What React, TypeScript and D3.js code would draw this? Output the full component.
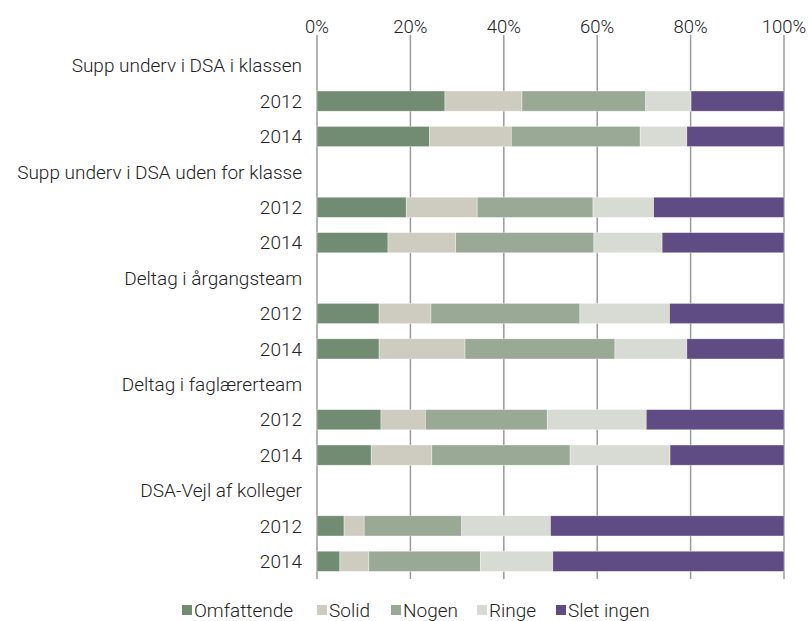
import React from "react";
import * as d3 from "d3";

const groups = [
  "Supp underv i DSA i klassen",
  "Supp underv i DSA uden for klasse",
  "Deltag i årgangsteam",
  "Deltag i faglærerteam",
  "DSA-Vejl af kolleger",
];
const years = ["2012", "2014"];
const seriesNames = ["Omfattende", "Solid", "Nogen", "Ringe", "Slet ingen"];
const colors = ["#728c73", "#cecbc0", "#9aa996", "#d8dbd4", "#604c84"];

// one value per bar, order: group1 2012, group1 2014, group2 2012 ...
const omfattende = [27.4, 24.1, 19.1, 15.2, 13.3, 13.3, 13.7, 11.6, 5.8, 4.9];
const solid = [16.5, 17.5, 15.2, 14.5, 11.1, 18.4, 9.5, 13.0, 4.3, 6.2];
const nogen = [26.5, 27.6, 24.8, 29.6, 31.9, 32.1, 26.1, 29.6, 20.9, 23.9];
const ringe = [9.7, 10.0, 13.0, 14.6, 19.2, 15.4, 21.2, 21.4, 19.0, 15.5];
const sletIngen = [19.9, 20.8, 27.9, 26.1, 24.5, 20.8, 29.5, 24.4, 50.0, 49.5];
const ticks = [0, 20, 40, 60, 80, 100];

const W = 812;
const H = 621;
const font = "Roboto, 'Open Sans', sans-serif";

export default function App() {
  const allSeries = [omfattende, solid, nogen, ringe, sletIngen];

  // rows: header then one per year
  const rows: { key: string; label: string; bar: number }[] = [];
  let bi = 0;
  groups.forEach((g, gi) => {
    rows.push({ key: "h" + gi, label: g, bar: -1 });
    years.forEach((yr) => {
      rows.push({ key: "b" + bi, label: yr, bar: bi });
      bi++;
    });
  });

  const x = d3.scaleLinear().domain([0, 100]).range([317, 784]);
  const y = d3
    .scaleBand()
    .domain(rows.map((r) => r.key))
    .range([48, 579])
    .paddingInner(0.43)
    .paddingOuter(0.215);

  const stackData = rows
    .filter((r) => r.bar >= 0)
    .map((r) => {
      const o: any = { key: r.key };
      seriesNames.forEach((s, si) => (o[s] = allSeries[si][r.bar]));
      return o;
    });
  const stacked = d3.stack<any>().keys(seriesNames)(stackData);

  // legend layout
  const legendX = [182, 317, 391, 477, 556];

  return (
    <div style={{ position: "absolute", left: 0, top: 0 }}>
      <svg width={W} height={H} style={{ display: "block" }} fontFamily={font} fontWeight={300}>
        {ticks.map((t) => (
          <g key={t}>
            <line
              x1={x(t)}
              x2={x(t)}
              y1={35}
              y2={579}
              stroke="#9b9b9b"
              strokeWidth={1.5}
            />
            <text
              x={x(t)}
              y={33}
              textAnchor="middle"
              fontSize={18.5}
              fill="#222"
            >
              {t + "%"}
            </text>
          </g>
        ))}
        {stacked.map((layer, si) => (
          <g key={layer.key} fill={colors[si]}>
            {layer.map((d: any) => (
              <rect
                key={d.data.key}
                x={x(d[0])}
                width={x(d[1]) - x(d[0])}
                y={y(d.data.key)!}
                height={y.bandwidth()}
                stroke="#fff"
                strokeWidth={0.6}
                strokeOpacity={0.6}
              />
            ))}
          </g>
        ))}
        {rows.map((r) => (
          <text
            key={r.key}
            x={302}
            y={y(r.key)! + y.bandwidth() / 2}
            dy="0.35em"
            textAnchor="end"
            fontSize={19}
            fill="#222"
          >
            {r.label}
          </text>
        ))}
        {seriesNames.map((s, i) => (
          <g key={s} transform={`translate(${legendX[i]},${610})`}>
            <rect x={0} y={-5} width={10} height={10} fill={colors[i]} />
            <text x={12} y={0} dy="0.35em" fontSize={19} fill="#222">
              {s}
            </text>
          </g>
        ))}
      </svg>
    </div>
  );
}
